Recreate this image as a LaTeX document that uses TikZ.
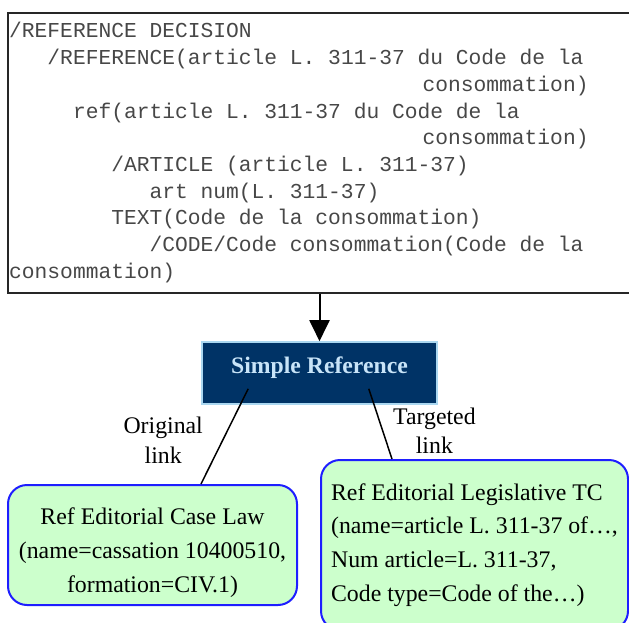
\documentclass[tikz,border=0pt]{standalone}
\usepackage{fontspec}
\setmainfont{Liberation Serif}
\setmonofont{Liberation Mono}
\usetikzlibrary{arrows.meta}

\definecolor{srnavy}{RGB}{0,51,102}
\definecolor{sredge}{RGB}{170,215,240}
\definecolor{srtext}{RGB}{200,228,248}
\definecolor{edgreen}{RGB}{204,255,204}
\definecolor{edblue}{RGB}{30,30,255}

\tikzset{
  source box/.style={draw=black!85, line width=2pt, minimum width=626pt, minimum height=280pt, inner sep=0pt},
  code line/.style={anchor=base west, inner sep=0pt, text=black!72, font=\fontsize{21.27pt}{26.67pt}\ttfamily},
  simple ref/.style={draw=sredge, line width=1.6pt, fill=srnavy, text=srtext, minimum width=235pt, minimum height=62pt,
    text height=16.2pt, text depth=15.2pt, font=\fontsize{23.7pt}{28pt}\selectfont\bfseries},
  editorial box/.style={draw=edblue, line width=2pt, fill=edgreen, rounded corners=19pt, inner sep=0pt},
  box text/.style={inner sep=0pt, font=\fontsize{23.8pt}{33.7pt}\selectfont},
  link/.style={line width=1.5pt},
  link label/.style={inner sep=0pt, align=center, font=\fontsize{23.8pt}{29.5pt}\selectfont}
}

\begin{document}
\begin{tikzpicture}[x=1pt, y=-1pt, >={Triangle[length=21pt, width=20pt]}]
  \useasboundingbox (0,0) rectangle (629,623);
  \clip (0,0) rectangle (629,623);

  % source text
  \node [source box] (source) at (321,153) {};
  \foreach \n/\txt [count=\y from 0] in {
    0/{/REFERENCE DECISION},
    3/{/REFERENCE(article L. 311-37 du Code de la},
    32.4/{consommation)},
    5/{ref(article L. 311-37 du Code de la},
    32.4/{consommation)},
    8/{/ARTICLE (article L. 311-37)},
    11/{art num(L. 311-37)},
    8/{TEXT(Code de la consommation)},
    11/{/CODE/Code consommation(Code de la},
    0/{consommation)}}
  \node [code line] (code-\y) at (9+\n*12.76, 38+\y*26.67) {\txt};

  % reference
  \node [simple ref] (sref) at (319.5,373) {Simple Reference};
  \draw [->, line width=2pt] (sref.north |- source.south) -- (sref.north);

  % editorial references
  \node [editorial box, minimum width=289pt, minimum height=120pt] (caselaw) at (152.5,545) {};
  \node [box text, align=center] (caselaw-text) at (152.5,552.6)
    {Ref Editorial Case Law\\(name=cassation 10400510,\\formation=CIV.1)};
  \node [editorial box, box text, align=left, minimum width=307pt, minimum height=170pt] (legis) at (474.5,545)
    {Ref Editorial Legislative TC\\(name=article L. 311-37 of\dots,\\Num article=L. 311-37,\\Code type=Code of the\dots)};

  % links
  \draw [link] ([xshift=47pt, yshift=16pt]sref.south west) -- ([xshift=48.5pt]caselaw.north)
    node [link label, midway, left=21pt, yshift=-3.6pt] {Original\\link};
  \draw [link] ([xshift=-69pt, yshift=16pt]sref.south east) -- ([xshift=72pt]legis.north west)
    node [link label, midway, right=12pt, yshift=-6.7pt] {Targeted\\link};
\end{tikzpicture}
\end{document}
